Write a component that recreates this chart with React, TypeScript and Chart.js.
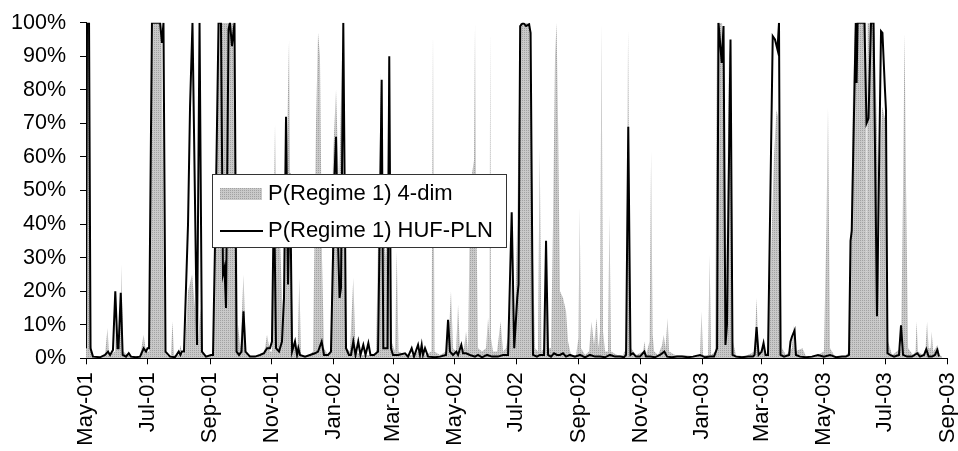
import { useEffect, useRef } from 'react';
import { Chart, registerables } from 'chart.js';

Chart.register(...registerables);

// ---- data ----
const tickLabels = ['May-01', 'Jul-01', 'Sep-01', 'Nov-01', 'Jan-02', 'Mar-02', 'May-02', 'Jul-02', 'Sep-02', 'Nov-02', 'Jan-03', 'Mar-03', 'May-03', 'Jul-03', 'Sep-03'];
const tickDates = ['2001-05-01', '2001-07-01', '2001-09-01', '2001-11-01', '2002-01-01', '2002-03-01', '2002-05-01', '2002-07-01', '2002-09-01', '2002-11-01', '2003-01-01', '2003-03-01', '2003-05-01', '2003-07-01', '2003-09-01'];
const legendLabels = ['P(Regime 1) 4-dim', 'P(Regime 1) HUF-PLN'];

// days since 1 May 2001
const fourDimDays = [
  0, 1, 3, 4.5, 6.9, 13.9, 18.8, 21.3, 22.8, 28.7, 30.2, 31.7, 33.7, 35.1, 36.6, 43.6, 53.5, 57, 59.4,
  62.4, 64.8, 66.3, 74.7, 77.7, 81.2, 84.1, 85.6, 87.1, 92, 93.5, 95,
  98, 101, 105, 107.9, 110.9, 113.3, 114.8, 119.8,
  125.7, 128.7, 131.7, 145.5, 148.5, 150.5, 152.9, 155.9, 158.4, 164.3,
  174.2, 177.2, 179.2, 182.1, 184.1, 187.1, 188.6, 192.1, 195, 198, 201, 202.4, 204.9, 209.4, 211.2, 212.8, 219.8,
  224.7, 227.7, 229.7, 231.6, 233.6, 235.6, 239.6,
  242.5, 244.5, 247.5, 250.4, 253.4, 255.4, 257.4, 261.3, 264.6, 266.8, 273.2,
  287.1, 290, 292, 294, 297, 299.8, 302.4, 305.9, 307.6, 309.4, 315.8, 325.7, 330.6, 335.6,
  342, 343.5, 345, 350.4, 356.4, 358.4, 359.8, 361.3, 363.3, 366.3, 368.3, 370.3, 374.2, 376.2, 378.2,
  380.1, 382.1, 384.1, 385.1, 386.1, 388.1, 392, 396, 398, 399.4, 400.1, 400.9, 402.9, 406.9, 410.4, 412.8, 415.8,
  419.8, 422.3, 423.9, 426.9, 429.8, 439.7, 442.5, 444.5, 447.4, 449.1, 450.9, 453.4, 455.4, 457.4,
  460.3, 462.3, 464.3, 465.8, 467.3, 469.2, 472.2, 475.2, 477.2, 480.1, 485.1, 487.5, 488.7, 490, 494, 497.9, 500.4, 502.9, 505.4, 507.4, 508.8, 510.3, 511.8, 513.8, 516.7, 518.2, 519.7, 525.7, 531.6,
  534.6, 536.6, 538.1, 539.6, 544.5, 551.4, 552.9, 554.4, 557.9, 559.4, 560.9, 562.4, 566.3, 570.3, 571.8, 573.7, 575.7, 577.2, 583.1, 593, 602.9,
  607.8, 609.3, 610.8, 615.8, 617.3, 618.8,
  622.7, 624.7, 629.6, 631.6, 633.6, 636.5, 638.5, 640.4, 643.4, 652.3,
  661.8, 663.8, 665.8, 668.8, 670.7, 672.7,
  675.1, 678, 681, 683.5, 685, 687, 689, 692.9, 698.9, 700.2, 701.9, 709.2, 712.7, 721.6,
  730.5, 733, 734.5, 736.5, 741.4, 751.3,
  755.3, 757.3, 759.3, 761.3, 772.2, 772.9, 773.7, 780.1, 784.6, 785.3, 786.1, 788.1, 792, 794, 797.9,
  806.8, 808.8, 810.3, 811.8, 813.8, 818.7, 821.2, 822.2, 823.6, 828.6, 831.1, 832.6, 834.1, 836.1, 837.1, 838.6, 843, 845, 847.6,
];
const fourDimValues = [
  5, 100, 100, 5, 0, 0, 1, 9, 1, 2, 15, 3, 4, 28, 2, 0.5, 0.5, 7, 2,
  2, 80, 100, 100, 2, 0.5, 1, 11, 1, 1, 4, 1,
  2, 20, 25, 15, 5, 15, 2, 0.5,
  1, 60, 100, 100, 60, 10, 3, 25, 2, 0.5,
  1, 3, 7, 2, 2, 70, 40, 35, 10, 50, 95, 40, 5, 1, 24, 1, 0.5,
  2, 70, 97, 90, 30, 3, 1,
  2, 60, 80, 50, 90, 40, 3, 2, 24, 2, 1,
  1, 50, 85, 40, 30, 90, 5, 2, 32, 2, 1, 1, 3, 1,
  2, 97, 2, 1, 2, 10, 11, 20, 3, 2, 16, 2, 3, 8, 2,
  45, 55, 59, 100, 50, 3, 2, 3, 12, 6, 98, 6, 2, 2, 11, 2, 3,
  10, 37, 5, 40, 100, 100, 30, 3, 2, 63, 2, 3, 32, 3,
  3, 40, 90, 100, 70, 20, 18, 14, 5, 1, 1, 6, 45, 3, 1, 2, 11, 4, 12, 3, 8, 100, 8, 2, 2, 43, 2, 1, 1,
  3, 98, 30, 3, 1, 2, 5, 1, 5, 62, 7, 2, 1, 4, 7, 3, 12, 2, 1, 1, 0.5,
  1, 14, 1, 1, 31, 1,
  2, 100, 100, 90, 20, 90, 95, 5, 1, 0.5,
  2, 18, 1, 3, 4, 1,
  2, 30, 60, 74, 72, 40, 3, 1, 3, 10, 2, 3, 0.5, 0.5,
  2, 40, 75, 3, 0.5, 0.5,
  2, 40, 80, 100, 100, 16, 100, 100, 50, 7, 60, 75, 70, 5, 1,
  3, 50, 97, 50, 3, 1, 2, 11, 2, 1, 3, 11, 3, 3, 8, 2, 4, 1, 0.5,
];

const hufPlnDays = [
  0, 1, 3, 4.5, 6.9, 13.9, 18.8, 21.8, 23.8, 26.7, 29, 31.2, 32.2, 34.4, 36.3, 39.6, 42.3, 44.5, 49.5, 53.5, 57.1, 59.4, 60.9,
  62.4, 65.3, 73.3, 75.2, 76.7, 78.7, 83.2, 88.1, 91.8, 93.5, 95,
  97, 101, 103, 105.4, 109.9, 112.4, 114.8, 118.8, 123.7,
  125.7, 128.7, 131.2, 133.6, 135.6, 137.1, 138.6, 141.1, 142.5, 144.5, 147, 149, 151.5, 153.9, 155.9, 157.9, 162.3,
  167.3, 172.2, 176.2, 179.2, 182.1, 184.1, 186.1, 188.1, 191.1, 194, 196, 198, 200, 202, 204,
  206.9, 208.9, 210.2, 211.8, 216.8, 221.7, 226.7, 229.7, 233.3, 235.6, 239.6,
  242.5, 244.5, 246, 247.5, 249, 251, 252.4, 254.7, 257.4, 260.3, 262.3, 264.6, 266.8, 269.5, 271.7, 274.5, 276.7, 279.5, 281.6, 285.1,
  289.1, 292.7, 294.3, 298.5, 300.2, 301.9, 303.9,
  308.9, 315.8, 318.8, 322.4, 324.7, 328.7, 330.6, 332.3, 333.6, 335.6, 338.6, 345.5, 350.4, 356.4,
  358.4, 360.3, 363.3, 366.6, 368.3, 371.5, 373.2, 376.2, 380.1, 385.1, 388.1, 392, 397, 401.9, 407.8, 412.8, 415.8,
  417.8, 421.4, 423.9, 426.9, 428.2, 429.8, 432.7, 435.6, 438.6, 440.1, 442.5, 446.4,
  449.4, 453.4, 455.4, 457.4, 460.3, 463.3, 466.2, 469.2, 472.2, 475.2, 479.1, 484, 489, 494, 498.9, 503.9, 508.8, 513.8, 518.7, 523.7, 528.6, 532.6,
  534.6, 536.8, 539, 541.5, 544.5, 548.4, 552.7, 554.4, 558.4, 563.3, 568.2, 572.5, 575.2, 580.1, 585.1, 590, 595.9, 600.9, 607.8, 612.8, 617.7, 621.7,
  624.7, 626.1, 629.3, 631.1, 633, 634.5, 638, 640, 643.5, 649.4, 655.4, 660.3,
  661.8, 663.8, 665.8, 668.8, 670.7, 672.7, 675.1, 679.8, 682, 684.5, 686, 687.5, 691,
  696, 697.4, 698.9, 701.4, 702.8, 706.8, 712.7, 718.6, 724.6, 730.5, 736.5, 742.4, 748.4, 752.3,
  755.3, 756.8, 758, 762, 762.8, 763.8, 770.6, 772.6, 774.6, 777.1, 779.6, 783, 787, 788.4, 790.9, 791.9, 793.4, 795.9, 799.9,
  804.8, 806.8, 808.8, 812.7, 817.7, 822.9, 825.6, 829.6, 831.8, 834.1, 837.5, 840.4, 842.7, 844.4,
];
const hufPlnValues = [
  3, 100, 100, 3, 0.5, 0.3, 1, 2, 1, 2.5, 20, 3, 3, 19.5, 1, 0.5, 1.5, 0.5, 0.3, 0.5, 3, 2, 3,
  3, 100, 100, 94, 100, 2, 0.5, 0.3, 2, 1, 2,
  2, 40, 75, 100, 4, 100, 2, 0.5, 1,
  1, 50, 100, 100, 25, 27, 15, 98, 100, 93, 100, 2, 1, 2, 14, 2, 0.5,
  0.5, 1, 1.5, 3, 3, 5, 50, 3, 2, 5, 18, 72, 22, 55, 2,
  5, 1, 3, 1, 0.5, 1, 1.5, 2, 5, 1, 1,
  2, 30, 55, 66, 40, 18, 21, 100, 3, 1, 1, 5, 1, 5, 1, 4, 1, 4.5, 1, 1,
  2, 83, 3, 3, 90, 3, 1,
  1, 1.5, 0.5, 3, 0.5, 4, 1, 4, 1, 3, 0.5, 0.3, 0.5, 1,
  11.5, 2, 1, 2, 1, 4, 1.5, 1.5, 1, 0.5, 1, 0.3, 1, 0.5, 0.5, 1, 1,
  1, 43.5, 3, 18, 22, 99, 100, 99, 99.5, 97, 1, 0.5,
  1, 1, 35, 1, 0.5, 1.5, 1, 1, 1.5, 0.5, 1, 0.5, 1, 0.3, 1, 0.5, 0.5, 0.3, 1, 0.5, 0.5, 0.3,
  1, 69, 1, 1.5, 0.5, 0.5, 2, 0.5, 0.5, 0.3, 1, 2, 0.5, 0.3, 0.5, 0.5, 0.3, 0.5, 1, 0.3, 0.5, 0.5,
  3, 100, 88, 99, 4, 10, 95, 1, 0.5, 0.3, 0.5, 0.5,
  1, 9.3, 1, 2, 4.5, 1, 1, 96, 95, 92, 100, 1, 0.5,
  1, 5, 6.5, 8.3, 1, 0.5, 0.3, 0.5, 1, 0.5, 1, 0.3, 0.5, 0.5,
  1, 35, 38, 100, 82, 100, 100, 70, 71.5, 100, 100, 12.5, 97.5, 97, 80, 74, 1.5, 1, 0.5,
  1, 9.8, 1, 0.5, 0.5, 1.5, 0.5, 1, 2.7, 0.5, 0.5, 1, 2.5, 0.5,
];

const DAY_MS = 86400000;
const originMs = Date.parse(tickDates[0]);
const tickDays = tickDates.map((d) => Math.round((Date.parse(d) - originMs) / DAY_MS));

const FONT = '"Liberation Sans", Arial, sans-serif';

function makePattern(): CanvasPattern | string {
  const pc = document.createElement('canvas');
  pc.width = 2;
  pc.height = 2;
  const p = pc.getContext('2d');
  if (!p) return '#c0c0c0';
  p.fillStyle = '#c9c9c9';
  p.fillRect(0, 0, 2, 2);
  p.fillStyle = '#a2a2a2';
  p.fillRect(0, 0, 1, 1);
  const pat = p.createPattern(pc, 'repeat');
  return pat || '#c0c0c0';
}

export default function App() {
  const ref = useRef<HTMLCanvasElement | null>(null);

  useEffect(() => {
    if (!ref.current) return;
    const pattern = makePattern();

    const legendPlugin = {
      id: 'boxLegend',
      afterDatasetsDraw(chart: any) {
        const ctx = chart.ctx as CanvasRenderingContext2D;
        ctx.save();
        ctx.fillStyle = '#ffffff';
        ctx.fillRect(212.5, 174.5, 294, 73);
        ctx.strokeStyle = '#333333';
        ctx.lineWidth = 1;
        ctx.strokeRect(212.5, 174.5, 294, 73);
        ctx.fillStyle = pattern as any;
        ctx.fillRect(220, 188, 42, 12);
        ctx.beginPath();
        ctx.moveTo(220, 231);
        ctx.lineTo(263, 231);
        ctx.strokeStyle = '#000';
        ctx.lineWidth = 2;
        ctx.stroke();
        ctx.fillStyle = '#000';
        ctx.font = `22px ${FONT}`;
        ctx.textBaseline = 'alphabetic';
        ctx.textAlign = 'left';
        ctx.fillText(legendLabels[0], 268, 200);
        ctx.fillText(legendLabels[1], 268, 237);
        ctx.restore();
      },
    };

    const chart = new Chart(ref.current, {
      type: 'line',
      data: {
        datasets: [
          {
            label: legendLabels[1],
            data: hufPlnDays.map((x, i) => ({ x, y: hufPlnValues[i] })),
            borderColor: '#000000',
            borderWidth: 2,
            pointRadius: 0,
            fill: false,
            tension: 0,
          },
          {
            label: legendLabels[0],
            data: fourDimDays.map((x, i) => ({ x, y: fourDimValues[i] })),
            borderColor: 'rgba(0,0,0,0)',
            borderWidth: 0,
            backgroundColor: pattern as any,
            pointRadius: 0,
            fill: 'origin',
            tension: 0,
          },
        ],
      },
      options: {
        animation: false,
        responsive: true,
        maintainAspectRatio: false,
        layout: { padding: { top: 22.7, right: 10.3, left: 0, bottom: 0 } },
        plugins: { legend: { display: false }, tooltip: { enabled: false } },
        scales: {
          x: {
            type: 'linear',
            min: tickDays[0],
            max: tickDays[tickDays.length - 1],
            afterBuildTicks: (axis: any) => {
              axis.ticks = tickDays.map((v) => ({ value: v }));
            },
            afterFit: (axis: any) => {
              axis.height = 92.7;
              axis.paddingLeft = 0;
              axis.paddingRight = 0;
            },
            ticks: {
              autoSkip: false,
              maxRotation: 90,
              minRotation: 90,
              padding: 8,
              color: '#000',
              font: { family: FONT, size: 22 },
              callback: (v: any) => {
                const i = tickDays.indexOf(Number(v));
                return i >= 0 ? tickLabels[i] : '';
              },
            },
            grid: { drawOnChartArea: false, drawTicks: true, tickLength: 6, color: '#000' },
            border: { display: true, color: '#000', width: 1 },
          },
          y: {
            min: 0,
            max: 100,
            afterFit: (axis: any) => {
              axis.width = 86;
              axis.paddingTop = 0;
              axis.paddingBottom = 0;
            },
            ticks: {
              stepSize: 10,
              padding: 14,
              color: '#000',
              font: { family: FONT, size: 21.5 },
              callback: (v: any) => `${v}%`,
            },
            grid: { drawOnChartArea: false, drawTicks: true, tickLength: 6, color: '#000' },
            border: { display: true, color: '#000', width: 1 },
          },
        },
      },
      plugins: [legendPlugin],
    });

    return () => chart.destroy();
  }, []);

  return (
    <div style={{ position: 'absolute', left: 0, top: 0, width: 958, height: 451 }}>
      <canvas ref={ref} />
    </div>
  );
}
